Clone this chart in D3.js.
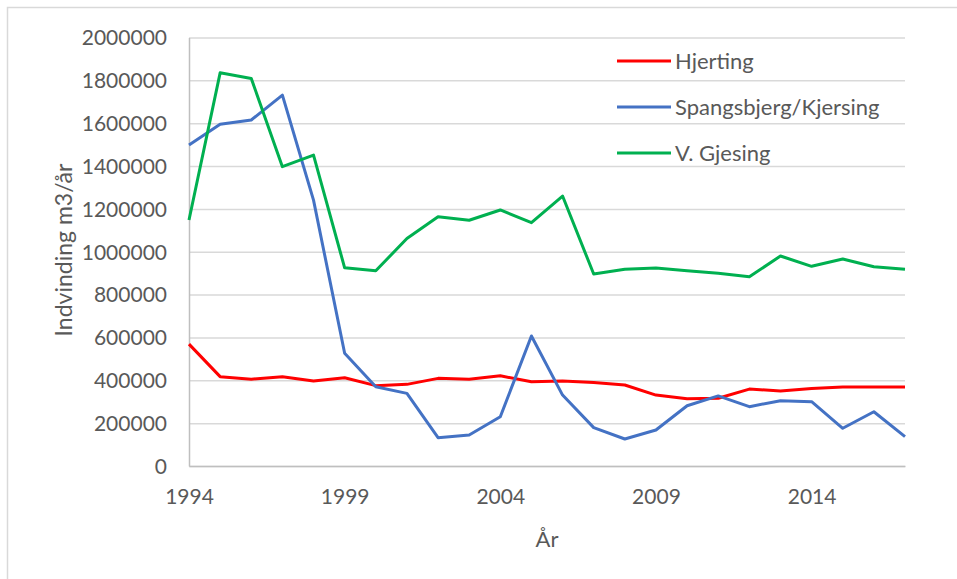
<!DOCTYPE html>
<html>
<head>
<meta charset="utf-8">
<script src="https://cdn.jsdelivr.net/npm/d3@7"></script>
<style>
  body { margin: 0; background: #fff; }
  svg text { font-family: Lato, "Open Sans", sans-serif; fill: #595959; }
</style>
</head>
<body>
<svg id="chart" width="957" height="579"></svg>
<script>
// data
const years = d3.range(1994, 2018);
const hjerting = [569000, 417000, 405000, 417000, 397000, 412000, 375000, 381000, 409000, 405000, 421000, 393000,
  397000, 390000, 378000, 331000, 314000, 316000, 359000, 350000, 362000, 369000, 369000, 369000];
const spangsbjerg = [1498000, 1595000, 1615000, 1731000, 1241000, 526000, 370000, 339000, 132000, 145000, 230000, 607000,
  331000, 179000, 126000, 168000, 281000, 327000, 277000, 305000, 300000, 176000, 253000, 137000];
const gjesing = [1148000, 1835000, 1809000, 1397000, 1451000, 925000, 911000, 1062000, 1163000, 1147000, 1195000, 1136000,
  1260000, 896000, 918000, 924000, 911000, 900000, 883000, 980000, 932000, 966000, 930000, 918000];
const yTicks = d3.range(0, 2000001, 200000);
const xTicks = [1994, 1999, 2004, 2009, 2014];
const seriesNames = ["Hjerting", "Spangsbjerg/Kjersing", "V. Gjesing"];
const seriesColors = ["#ff0000", "#4472c4", "#00b050"];

var series = [hjerting, spangsbjerg, gjesing].map((vals, i) => ({
  name: seriesNames[i], color: seriesColors[i],
  values: vals.map((v, j) => ({year: years[j], value: v}))
}));

var svg = d3.select("#chart"),
  margin = {top: 37.5, left: 189, right: 52, bottom: 113},
  width = +svg.attr("width") - margin.left - margin.right,
  height = +svg.attr("height") - margin.top - margin.bottom;

// chart frame (only top and left edges show in the reference)
svg.append("path")
  .attr("d", "M7.5,579 V7.5 H957")
  .attr("fill", "none").attr("stroke", "#d9d9d9").attr("stroke-width", 1.5);

var x = d3.scaleLinear().domain([1994, 2017]).range([0, width]);
var y = d3.scaleLinear().domain([0, 2000000]).range([height, 0]);

var g = svg.append("g").attr("transform", "translate(" + margin.left + "," + margin.top + ")");

// gridlines
g.append("g")
  .call(d3.axisLeft(y).tickValues(yTicks).tickSize(-width).tickFormat(""))
  .call(a => a.select(".domain").remove())
  .call(a => a.selectAll("line").attr("stroke", "#d9d9d9").attr("stroke-width", 1.5));

// y axis labels
g.append("g")
  .call(d3.axisLeft(y).tickValues(yTicks).tickSize(0).tickPadding(22).tickFormat(d3.format("d")))
  .call(a => a.select(".domain").attr("stroke", "#bfbfbf").attr("stroke-width", 1.5))
  .call(a => a.selectAll("text").style("font-size", "21px").attr("dy", "0.35em"));

// x axis
g.append("g")
  .attr("transform", "translate(0," + height + ")")
  .call(d3.axisBottom(x).tickValues(xTicks).tickSize(0).tickPadding(23).tickFormat(d3.format("d")))
  .call(a => a.select(".domain").attr("stroke", "#bfbfbf").attr("stroke-width", 1.5))
  .call(a => a.selectAll("text").style("font-size", "21px"));

var line = d3.line()
  .x(d => x(d.year))
  .y(d => y(d.value));

g.selectAll(".series").data(series)
  .enter().append("path")
  .attr("class", "series")
  .attr("fill", "none")
  .attr("stroke", d => d.color)
  .attr("stroke-width", 3)
  .attr("stroke-linejoin", "round")
  .attr("d", d => line(d.values));

// axis titles
svg.append("text")
  .attr("transform", "translate(64,250) rotate(-90)")
  .attr("text-anchor", "middle")
  .attr("dy", "0.35em")
  .style("font-size", "23px")
  .text("Indvinding m3/år");

svg.append("text")
  .attr("x", margin.left + width / 2)
  .attr("y", 539)
  .attr("text-anchor", "middle")
  .attr("dy", "0.35em")
  .style("font-size", "22px")
  .text("År");

// legend
var legend = svg.selectAll(".legend").data(series)
  .enter().append("g")
  .attr("class", "legend")
  .attr("transform", (d, i) => "translate(617," + (61 + i * 46) + ")");

legend.append("line")
  .attr("x1", 0).attr("x2", 54)
  .attr("stroke", d => d.color)
  .attr("stroke-width", 3);

legend.append("text")
  .attr("x", 58)
  .attr("dy", "0.35em")
  .style("font-size", "22px")
  .text(d => d.name);
</script>
</body>
</html>
